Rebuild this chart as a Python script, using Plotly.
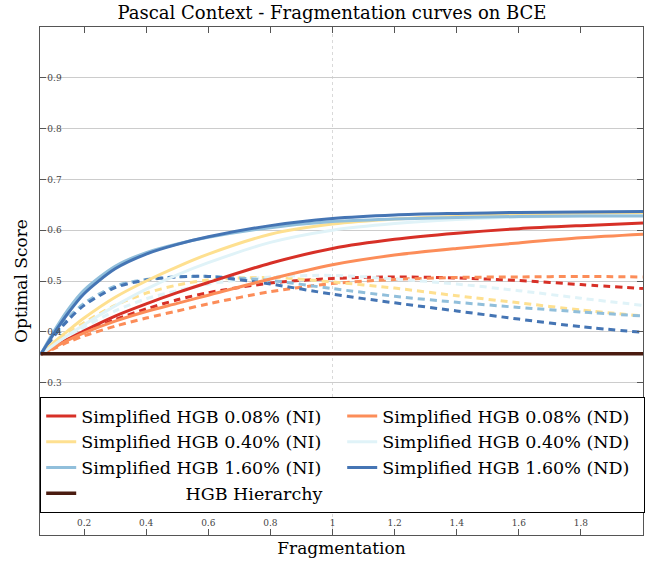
import plotly.graph_objects as go

x = [0.06, 0.1, 0.15, 0.2, 0.3, 0.4, 0.5, 0.6, 0.8, 1.0, 1.2, 1.4, 1.6, 1.8, 2.0]

# Solid curves
red_solid = [0.355, 0.369, 0.386, 0.402, 0.431, 0.455, 0.477, 0.497, 0.535, 0.564, 0.582, 0.594, 0.603, 0.609, 0.614]
orange_solid = [0.355, 0.368, 0.384, 0.398, 0.421, 0.440, 0.456, 0.472, 0.504, 0.532, 0.551, 0.564, 0.575, 0.585, 0.592]
yellow_solid = [0.355, 0.378, 0.403, 0.427, 0.468, 0.500, 0.528, 0.553, 0.592, 0.612, 0.622, 0.627, 0.630, 0.631, 0.632]
cyan_solid = [0.355, 0.373, 0.394, 0.414, 0.451, 0.484, 0.512, 0.536, 0.576, 0.600, 0.613, 0.621, 0.626, 0.628, 0.629]
lblue_solid = [0.355, 0.398, 0.445, 0.482, 0.529, 0.556, 0.573, 0.586, 0.605, 0.617, 0.622, 0.625, 0.627, 0.628, 0.628]
blue_solid = [0.355, 0.394, 0.438, 0.475, 0.524, 0.553, 0.572, 0.587, 0.609, 0.623, 0.630, 0.633, 0.635, 0.636, 0.637]

# Dashed curves
red_dash = [0.355, 0.369, 0.385, 0.399, 0.424, 0.445, 0.463, 0.477, 0.496, 0.505, 0.508, 0.506, 0.501, 0.493, 0.485]
orange_dash = [0.355, 0.366, 0.380, 0.392, 0.411, 0.427, 0.441, 0.455, 0.479, 0.495, 0.503, 0.507, 0.508, 0.509, 0.508]
yellow_dash = [0.355, 0.374, 0.397, 0.418, 0.452, 0.476, 0.492, 0.502, 0.507, 0.498, 0.486, 0.471, 0.457, 0.443, 0.431]
cyan_dash = [0.355, 0.370, 0.390, 0.409, 0.441, 0.465, 0.481, 0.494, 0.508, 0.511, 0.504, 0.494, 0.481, 0.466, 0.452]
lblue_dash = [0.355, 0.391, 0.428, 0.456, 0.490, 0.503, 0.508, 0.509, 0.501, 0.485, 0.470, 0.458, 0.448, 0.439, 0.431]
blue_dash = [0.355, 0.389, 0.424, 0.452, 0.487, 0.502, 0.508, 0.509, 0.494, 0.474, 0.457, 0.441, 0.425, 0.410, 0.399]

hierarchy_x = [0.06, 2.0]
hierarchy_y = [0.357, 0.357]

labels = [
    "Simplified HGB 0.08% (NI)",
    "Simplified HGB 0.08% (ND)",
    "Simplified HGB 0.40% (NI)",
    "Simplified HGB 0.40% (ND)",
    "Simplified HGB 1.60% (NI)",
    "Simplified HGB 1.60% (ND)",
]
hier_label = "HGB Hierarchy"

colors = ["#d73027", "#fc8d59", "#fee090", "#e0f3f8", "#91bfdb", "#4575b4"]
hier_color = "#4a1c10"

solids = [red_solid, orange_solid, yellow_solid, cyan_solid, lblue_solid, blue_solid]
dashes = [red_dash, orange_dash, yellow_dash, cyan_dash, lblue_dash, blue_dash]

FONT = "DejaVu Serif"

fig = go.Figure()

for ys, c in zip(dashes, colors):
    fig.add_trace(go.Scatter(x=x, y=ys, mode="lines", showlegend=False,
                             line=dict(color=c, width=3, dash="7px,5px", shape="spline", smoothing=0.8)))
for ys, c, lab in zip(solids, colors, labels):
    fig.add_trace(go.Scatter(x=x, y=ys, mode="lines", name=lab,
                             line=dict(color=c, width=3, shape="spline", smoothing=0.8)))

fig.add_trace(go.Scatter(x=hierarchy_x, y=hierarchy_y, mode="lines",
                         name="\u2003\u2003\u2003\u2003\u2003\u00a0\u00a0\u00a0" + hier_label,
                         line=dict(color=hier_color, width=3.5)))

fig.add_vline(x=1.0, line=dict(color="#d9d9d9", width=1, dash="dot"), layer="below")

fig.update_layout(
    width=651, height=565,
    margin=dict(l=40, r=8, t=27, b=30),
    plot_bgcolor="white", paper_bgcolor="white",
    font=dict(family=FONT, color="black"),
    title=dict(text="Pascal Context - Fragmentation curves on BCE",
               x=0.51, xref="container", xanchor="center",
               y=0.978, yref="container", yanchor="middle",
               font=dict(size=18, family=FONT)),
    legend=dict(orientation="h", x=0.0, xanchor="left", y=0.272, yanchor="top",
                bgcolor="white", bordercolor="black", borderwidth=1.2,
                font=dict(size=17.5, family=FONT), entrywidth=256, entrywidthmode="pixels",
                tracegroupgap=0, itemwidth=30),
    showlegend=True,
)

fig.update_xaxes(
    range=[0.058, 2.0], tickvals=[0.2, 0.4, 0.6, 0.8, 1.0, 1.2, 1.4, 1.6, 1.8],
    ticktext=["0.2", "0.4", "0.6", "0.8", "1", "1.2", "1.4", "1.6", "1.8"],
    ticks="inside", ticklen=6, tickcolor="#555555", ticklabelposition="inside",
    showline=True, linecolor="#555555", linewidth=1.2, mirror="allticks",
    showgrid=False, zeroline=False, automargin=False,
    tickfont=dict(size=9, family=FONT),
    title=dict(text="Fragmentation", font=dict(size=17, family=FONT)),
)
fig.update_yaxes(
    range=[0.0, 1.0], tickvals=[0.1, 0.2, 0.3, 0.4, 0.5, 0.6, 0.7, 0.8, 0.9],
    ticktext=["0.1", "0.2", "0.3", "0.4", "0.5", "0.6", "0.7", "0.8", "0.9"],
    ticks="inside", ticklen=6, tickcolor="#555555", ticklabelposition="inside",
    showline=True, linecolor="#555555", linewidth=1.2, mirror="allticks",
    showgrid=True, gridcolor="#cccccc", gridwidth=1, zeroline=False, automargin=False,
    tickfont=dict(size=9, family=FONT),
    title=dict(text="Optimal Score", font=dict(size=17, family=FONT)),
)

fig.write_html("out.html", config={"displayModeBar": False},
               post_script="document.body.style.margin='0px';")
